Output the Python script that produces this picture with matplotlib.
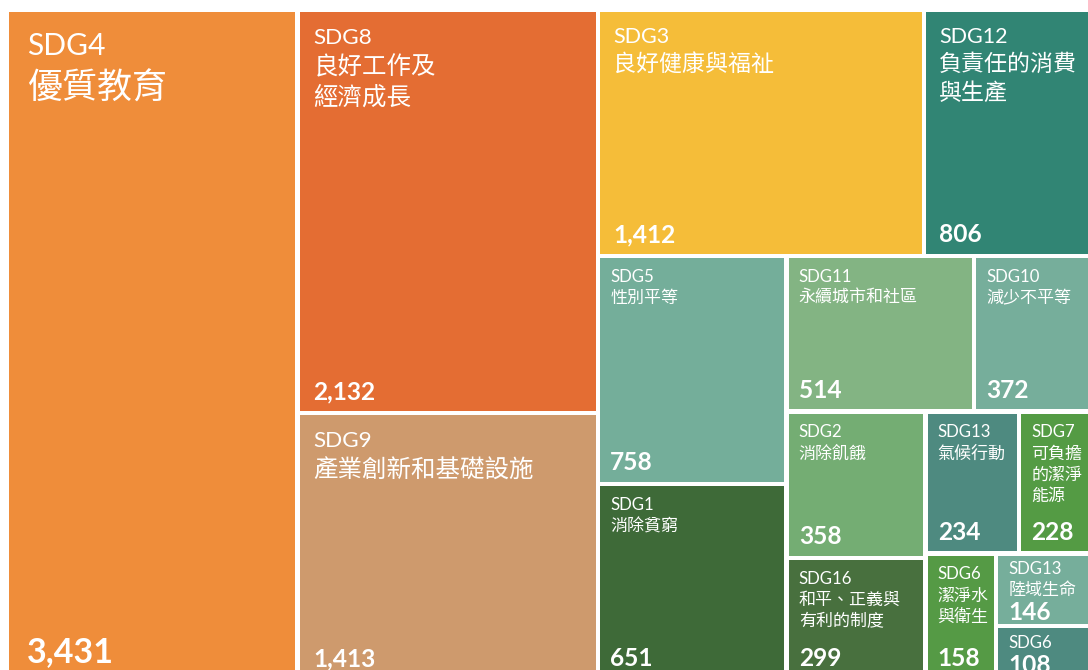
"""Treemap of SDG counts (cropped view, labels top-left, value bottom-left)."""
import matplotlib
matplotlib.use('Agg')
import matplotlib.pyplot as plt
from matplotlib.patches import Rectangle

codes = ['SDG4', 'SDG8', 'SDG9', 'SDG3', 'SDG12', 'SDG5', 'SDG1', 'SDG11',
         'SDG10', 'SDG2', 'SDG16', 'SDG13', 'SDG7', 'SDG6', 'SDG13', 'SDG6']
names = ['優質教育', '良好工作及\n經濟成長', '產業創新和基礎設施', '良好健康與福祉',
         '負責任的消費\n與生產', '性別平等', '消除貧窮', '永續城市和社區', '減少不平等',
         '消除飢餓', '和平、正義與\n有利的制度', '氣候行動', '可負擔\n的潔淨\n能源',
         '潔淨水\n與衛生', '陸域生命', '']
values = [3431, 2132, 1413, 1412, 806, 758, 651, 514, 372, 358, 299, 234, 228,
          158, 146, 108]
colors = ['#EF8D3A', '#E46D33', '#CE9A6D', '#F5BD39', '#318574', '#74AE9A',
          '#3E6A38', '#83B483', '#76AE9B', '#74AD73', '#48703E', '#4E8A80',
          '#549B44', '#559A45', '#76AE9B', '#4E8A80']
# how many cells go in each strip of the layout
strips = [1, 2, 2, 2, 2, 2, 2, 1, 1, 1]

FONTS = ['Lato', 'Noto Sans CJK TC', 'DejaVu Sans']
GAP = 4.4
PX = 0.72  # pt per px at dpi 100
# font sizes (px) per strip: code line, name lines, value
CODE_FS = {0: 30, 1: 22.5, 2: 21.5}
NAME_FS = {0: 35, 1: 24.5, 2: 23}
VAL_FS = {0: 34}


def layout(vals, groups, x0, y0, x1, y1):
    rects, rest, i = [], float(sum(vals)), 0
    for n in groups:
        grp = vals[i:i + n]
        s = sum(grp)
        w, h = x1 - x0, y1 - y0
        if w >= h:  # strip as a column on the left
            cw, yy = w * s / rest, y0
            for v in grp:
                rects.append((x0, yy, cw, h * v / s))
                yy += h * v / s
            x0 += cw
        else:       # strip as a row on top
            rh, xx = h * s / rest, x0
            for v in grp:
                rects.append((xx, y0, w * v / s, rh))
                xx += w * v / s
            y0 += rh
        rest -= s
        i += n
    return rects


rects = layout(values, strips, 7, 10, 1110, 680)
tier = []
for k, n in enumerate(strips):
    tier += [k] * n

fig = plt.figure(figsize=(10.88, 6.70), dpi=100)
ax = fig.add_axes([0, 0, 1, 1])
ax.set_xlim(0, 1088)
ax.set_ylim(670, 0)
ax.axis('off')

for (x, y, w, h), code, name, v, c, t in zip(rects, codes, names, values, colors, tier):
    x, y, w, h = x + GAP / 2, y + GAP / 2, w - GAP, h - GAP
    ax.add_patch(Rectangle((x, y), w, h, facecolor=c, edgecolor='none', zorder=1))
    cfs = CODE_FS.get(t, 16.8)
    nfs = NAME_FS.get(t, 17)
    vfs = VAL_FS.get(t, 24.5)
    lines = name.split('\n') if name else []
    step = 1.24 * nfs
    pad = 0.6 * cfs
    base = y + 1.42 * cfs
    # tight cells: nudge the label block up a little
    excess = base + len(lines) * step + 0.72 * vfs + 7 - (y + h - 5)
    base -= min(5, max(0, excess))
    kw = dict(color='white', family=FONTS, va='baseline', ha='left', zorder=3)
    ax.text(x + pad, base, code, fontsize=cfs * PX, **kw)
    last = base
    for j, ln in enumerate(lines):
        last = base + (j + 1) * step
        ax.text(x + pad, last, ln, fontsize=nfs * PX, **kw)
    # value sits at the bottom unless it would run into the label
    vb = max(y + h - 0.47 * vfs, last + 0.72 * vfs + 7)
    ax.text(x + pad, vb, f'{v:,}', fontsize=vfs * PX, fontweight='bold', **kw)

fig.savefig('out.png', dpi=100)
